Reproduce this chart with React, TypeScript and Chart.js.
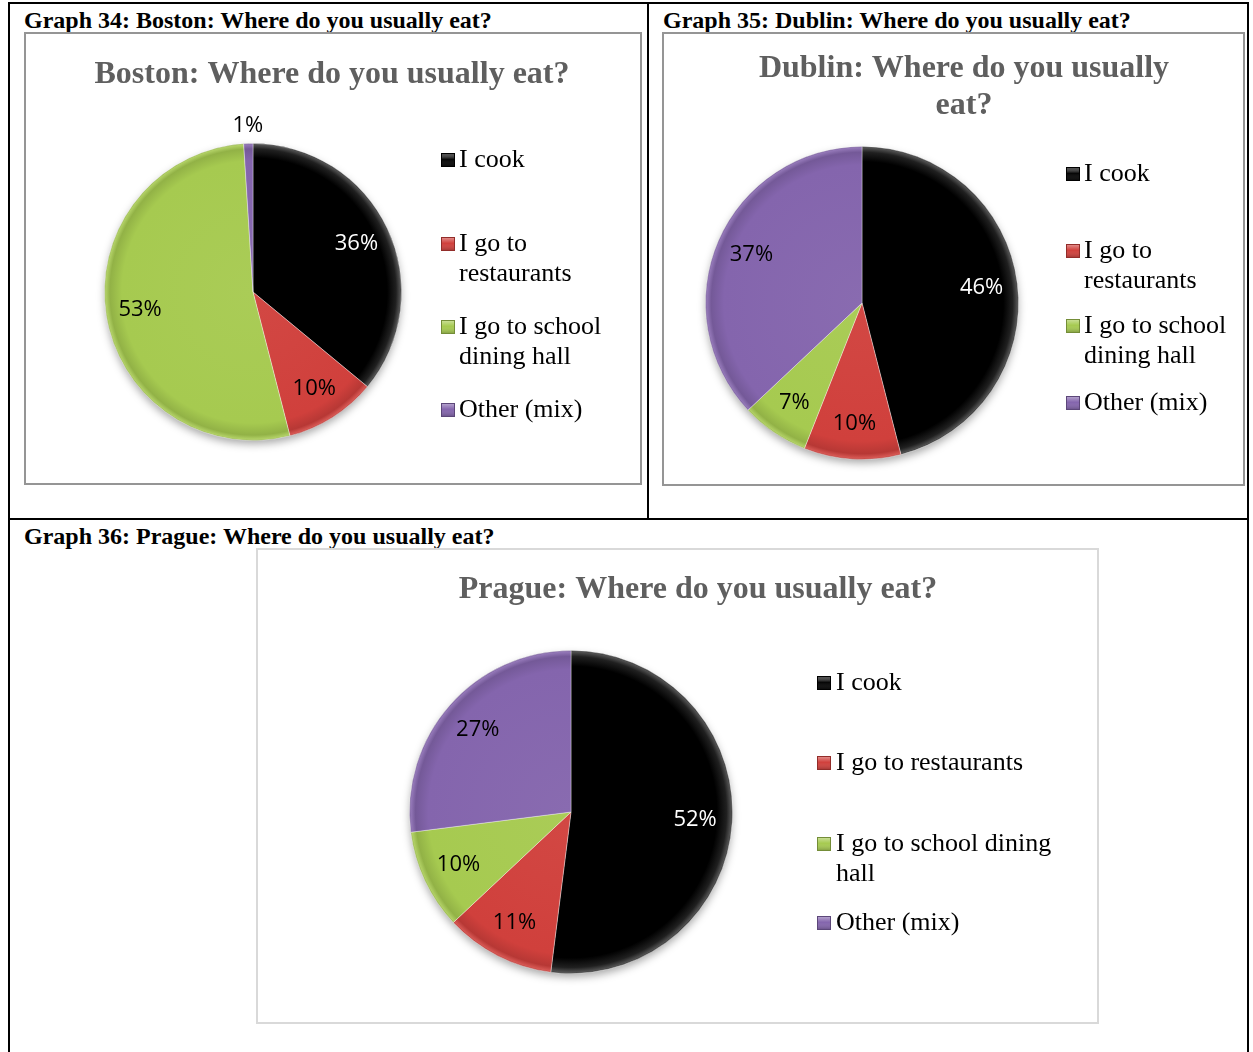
import React, { useEffect, useRef } from "react";
import { Chart, registerables } from "chart.js";

Chart.register(...registerables);

// ---------- data ----------
const categories = ["I cook", "I go to restaurants", "I go to school dining hall", "Other (mix)"];
const bostonShares = [36, 10, 53, 1];
const dublinShares = [46, 10, 7, 37];
const pragueShares = [52, 11, 10, 27];
const bostonTitle = ["Boston: Where do you usually eat?"];
const dublinTitle = ["Dublin: Where do you usually", "eat?"];
const pragueTitle = ["Prague: Where do you usually eat?"];
const graphCaptions = [
  "Graph 34: Boston: Where do you usually eat?",
  "Graph 35: Dublin: Where do you usually eat?",
  "Graph 36: Prague: Where do you usually eat?",
];
const sliceColors = ["#050505", "#d0403c", "#a6ca50", "#8465ad"];

// ---------- helpers ----------
function hexToRgb(hex: string) {
  const h = hex.replace("#", "");
  return [parseInt(h.slice(0, 2), 16), parseInt(h.slice(2, 4), 16), parseInt(h.slice(4, 6), 16)];
}
function shade(hex: string, amt: number) {
  const [r, g, b] = hexToRgb(hex);
  const t = amt > 0 ? 255 : 0;
  const a = Math.abs(amt);
  const m = (c: number) => Math.round(c + (t - c) * a);
  return `rgb(${m(r)},${m(g)},${m(b)})`;
}

function sliceFill(ctx: any) {
  const i = ctx.dataIndex;
  const base = sliceColors[i % sliceColors.length];
  const chart = ctx.chart;
  const ca = chart.chartArea;
  if (!ca) return base;
  const x = (ca.left + ca.right) / 2;
  const y = (ca.top + ca.bottom) / 2;
  const r = Math.min(ca.right - ca.left, ca.bottom - ca.top) / 2;
  if (r <= 0) return base;
  const g = chart.ctx.createRadialGradient(x, y, 0, x, y, r);
  if (i === 0) {
    g.addColorStop(0, "#000000");
    g.addColorStop(0.9, "#000000");
    g.addColorStop(0.96, "#202020");
    g.addColorStop(0.988, "#505050");
    g.addColorStop(1, "#262626");
  } else {
    g.addColorStop(0, shade(base, 0.04));
    g.addColorStop(0.88, base);
    g.addColorStop(0.96, shade(base, -0.12));
    g.addColorStop(0.988, shade(base, 0.12));
    g.addColorStop(1, shade(base, -0.2));
  }
  return g;
}

function wrapText(ctx: CanvasRenderingContext2D, text: string, maxWidth: number) {
  const words = text.split(" ");
  const lines: string[] = [];
  let cur = "";
  for (const w of words) {
    const test = cur ? cur + " " + w : w;
    if (ctx.measureText(test).width > maxWidth && cur) {
      lines.push(cur);
      cur = w;
    } else cur = test;
  }
  if (cur) lines.push(cur);
  return lines;
}

type Spec = {
  box: { left: number; top: number; width: number; height: number };
  border: string;
  values: number[];
  title: string[];
  titleX: number;
  titleY: number;
  pie: { cx: number; cy: number; r: number };
  legend: { markerX: number; textX: number; maxWidth: number; ys: number[] };
};

const specs: Spec[] = [
  {
    box: { left: 24, top: 32, width: 618, height: 453 },
    border: "#959595",
    values: bostonShares,
    title: bostonTitle,
    titleX: 332,
    titleY: 75,
    pie: { cx: 253, cy: 292, r: 149 },
    legend: { markerX: 441, textX: 459, maxWidth: 175, ys: [160, 244, 327, 410] },
  },
  {
    box: { left: 662, top: 32, width: 583, height: 454 },
    border: "#959595",
    values: dublinShares,
    title: dublinTitle,
    titleX: 964,
    titleY: 69,
    pie: { cx: 862, cy: 303, r: 157 },
    legend: { markerX: 1066, textX: 1084, maxWidth: 158, ys: [174, 251, 326, 403] },
  },
  {
    box: { left: 256, top: 548, width: 843, height: 476 },
    border: "#d9d9d9",
    values: pragueShares,
    title: pragueTitle,
    titleX: 698,
    titleY: 590,
    pie: { cx: 571, cy: 812, r: 162 },
    legend: { markerX: 817, textX: 836, maxWidth: 250, ys: [683, 763, 844, 923] },
  },
];

function PieChart({ spec }: { spec: Spec }) {
  const ref = useRef<HTMLCanvasElement>(null);
  useEffect(() => {
    const canvas = ref.current!;
    const { box, pie } = spec;
    const cx = pie.cx - box.left;
    const cy = pie.cy - box.top;
    const padding = {
      left: cx - pie.r,
      top: cy - pie.r,
      right: box.width - (cx + pie.r),
      bottom: box.height - (cy + pie.r),
    };
    const deco = {
      id: "deco",
      beforeDatasetsDraw(chart: any) {
        const ca = chart.chartArea;
        const x = (ca.left + ca.right) / 2;
        const y = (ca.top + ca.bottom) / 2;
        const r = Math.min(ca.right - ca.left, ca.bottom - ca.top) / 2;
        const c = chart.ctx;
        c.save();
        c.shadowColor = "rgba(0,0,0,0.35)";
        c.shadowBlur = 9;
        c.shadowOffsetY = 4;
        c.beginPath();
        c.arc(x, y, r - 1, 0, Math.PI * 2);
        c.fillStyle = "#ffffff";
        c.fill();
        c.restore();
      },
      afterDatasetsDraw(chart: any) {
        const c = chart.ctx;
        const meta = chart.getDatasetMeta(0);
        const vals = chart.data.datasets[0].data as number[];
        c.save();
        c.font = '22px "Open Sans"';
        c.textAlign = "center";
        c.textBaseline = "middle";
        meta.data.forEach((arc: any, i: number) => {
          const mid = (arc.startAngle + arc.endAngle) / 2;
          const v = vals[i];
          const f = v < 3 ? 1.12 : 0.77;
          const x = arc.x + Math.cos(mid) * arc.outerRadius * f;
          const y = arc.y + Math.sin(mid) * arc.outerRadius * f;
          c.fillStyle = i === 0 && v >= 3 ? "#ffffff" : "#000000";
          c.fillText(v + "%", x, y);
        });
        c.restore();
      },
      afterDraw(chart: any) {
        const c = chart.ctx;
        c.save();
        // title
        c.font = 'bold 32px "Liberation Serif"';
        c.fillStyle = "#5f5f5f";
        c.textAlign = "center";
        c.textBaseline = "middle";
        spec.title.forEach((line, k) => {
          c.fillText(line, spec.titleX - box.left, spec.titleY - box.top + k * 37);
        });
        // legend
        const lg = spec.legend;
        c.font = '26px "Liberation Serif"';
        c.textAlign = "left";
        categories.forEach((label, i) => {
          const y0 = lg.ys[i] - box.top;
          const mx = lg.markerX - box.left;
          const base = sliceColors[i];
          const s = 14;
          const my = y0 - s / 2;
          c.fillStyle = base;
          c.fillRect(mx, my, s, s);
          const gr = c.createLinearGradient(mx, my, mx, my + s);
          gr.addColorStop(0, i === 0 ? "rgba(90,90,90,0.8)" : "rgba(255,255,255,0.45)");
          gr.addColorStop(0.45, "rgba(255,255,255,0)");
          gr.addColorStop(1, "rgba(0,0,0,0.25)");
          c.fillStyle = gr;
          c.fillRect(mx, my, s, s);
          c.strokeStyle = i === 0 ? "#000" : shade(base, -0.3);
          c.lineWidth = 1;
          c.strokeRect(mx + 0.5, my + 0.5, s - 1, s - 1);
          c.fillStyle = "#000000";
          const lines = wrapText(c, label, lg.maxWidth);
          lines.forEach((ln, k) => c.fillText(ln, lg.textX - box.left, y0 + k * 30));
        });
        c.restore();
      },
    };
    const chart = new Chart(canvas, {
      type: "pie",
      data: {
        labels: categories,
        datasets: [
          {
            data: spec.values,
            backgroundColor: sliceFill as any,
            borderColor: "rgba(255,255,255,0.35)",
            borderWidth: 1,
          },
        ],
      },
      options: {
        responsive: false,
        animation: false,
        layout: { padding },
        plugins: {
          legend: { display: false },
          tooltip: { enabled: false },
          title: { display: false },
        },
      },
      plugins: [deco],
    });
    return () => chart.destroy();
  }, [spec]);
  const { box } = spec;
  return (
    <>
      <canvas
        ref={ref}
        width={box.width}
        height={box.height}
        style={{ position: "absolute", left: box.left, top: box.top, width: box.width, height: box.height }}
      />
      <div
        style={{
          position: "absolute",
          left: box.left,
          top: box.top,
          width: box.width,
          height: box.height,
          border: `2px solid ${spec.border}`,
          boxSizing: "border-box",
          pointerEvents: "none",
        }}
      />
    </>
  );
}

const line = (l: number, t: number, w: number, h: number) => (
  <div style={{ position: "absolute", left: l, top: t, width: w, height: h, background: "#000" }} />
);

const captionStyle = (l: number, t: number): React.CSSProperties => ({
  position: "absolute",
  left: l,
  top: t,
  fontFamily: '"Liberation Serif", serif',
  fontWeight: "bold",
  fontSize: 24,
  lineHeight: "24px",
  color: "#000",
  whiteSpace: "nowrap",
});

export default function App() {
  return (
    <div
      style={{
        position: "absolute",
        left: 0,
        top: 0,
        width: 1253,
        height: 1052,
        background: "#fff",
        overflow: "hidden",
      }}
    >
      {line(8, 2, 1241, 2)}
      {line(8, 2, 2, 1050)}
      {line(1247, 2, 2, 1050)}
      {line(647, 2, 2, 518)}
      {line(8, 518, 1241, 2)}
      <div style={captionStyle(24, 8)}>{graphCaptions[0]}</div>
      <div style={captionStyle(663, 8)}>{graphCaptions[1]}</div>
      <div style={captionStyle(24, 524)}>{graphCaptions[2]}</div>
      {specs.map((s, i) => (
        <PieChart key={i} spec={s} />
      ))}
    </div>
  );
}
